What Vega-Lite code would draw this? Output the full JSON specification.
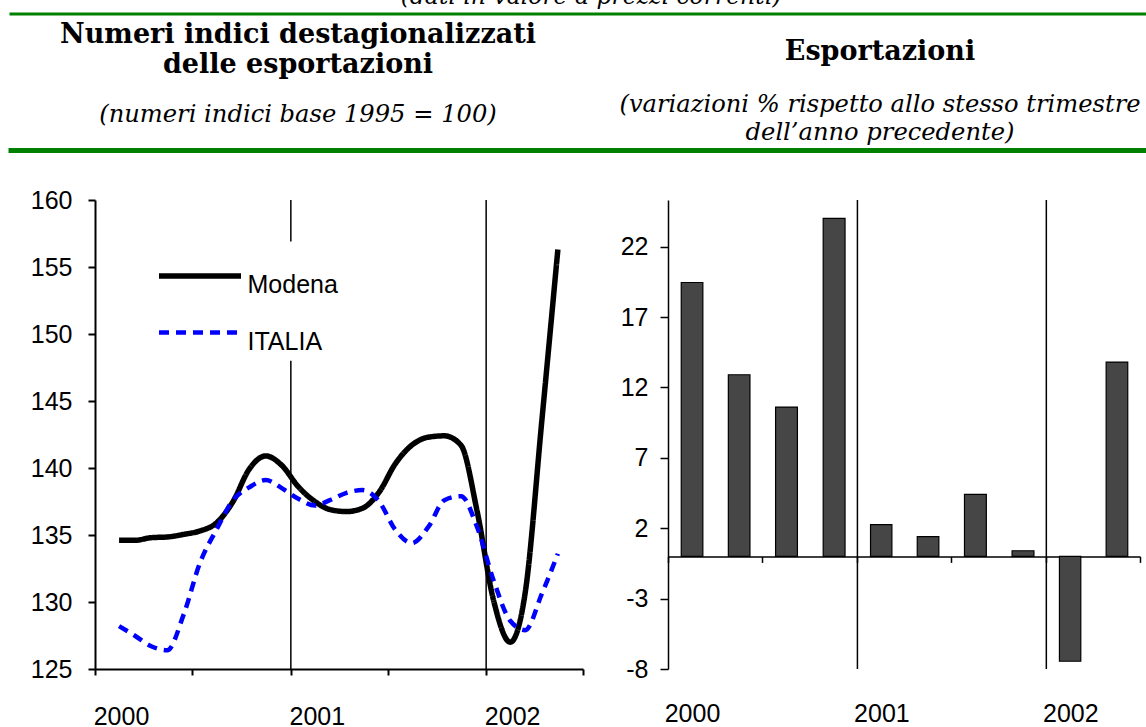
{
  "$schema": "https://vega.github.io/schema/vega-lite/v6.json",
  "background": "white",
  "padding": {"left": 8, "top": -17, "right": 0, "bottom": 0},
  "config": {
    "view": {"stroke": null},
    "font": "Liberation Sans",
    "axis": {"grid": false, "title": null, "labelFont": "Liberation Sans", "labelFontSize": 25, "labelColor": "black", "domainColor": "black", "tickColor": "black", "labelOverlap": false, "labelFlush": false, "labelBound": false},
    "legend": {"labelFont": "Liberation Sans", "labelColor": "black"}
  },
  "spacing": 34,
  "resolve": {"scale": {"color": "independent", "strokeDash": "independent", "strokeWidth": "independent"}},
  "vconcat": [
    {
      "spacing": 2.5,
      "vconcat": [
        {
          "width": 1138, "height": 0.01,
          "data": {"values": []},
          "mark": "point",
          "view": {"stroke": "#008000", "strokeWidth": 3},
          "title": {"text": "(dati in valore a prezzi correnti)", "font": "DejaVu Serif", "fontStyle": "italic", "fontWeight": "normal", "fontSize": 23.5, "color": "black", "anchor": "middle", "dx": 11, "offset": 6}
        },
        {
          "spacing": -5,
          "hconcat": [
            {
              "width": 574, "height": 0.01,
              "data": {"values": []},
              "mark": "point",
              "view": {"stroke": "#008000", "strokeWidth": 5},
              "title": {"text": ["Numeri indici destagionalizzati", "delle esportazioni"], "subtitle": "(numeri indici base 1995 = 100)", "anchor": "middle", "font": "DejaVu Serif", "fontSize": 27, "fontWeight": "bold", "color": "black", "lineHeight": 30, "subtitleFont": "DejaVu Serif", "subtitleFontStyle": "italic", "subtitleFontSize": 24.2, "subtitleColor": "black", "subtitlePadding": 23.75, "offset": 22.25}
            },
            {
              "width": 564, "height": 0.01,
              "data": {"values": []},
              "mark": "point",
              "view": {"stroke": "#008000", "strokeWidth": 5},
              "title": {"text": "Esportazioni", "subtitle": ["(variazioni % rispetto allo stesso trimestre", "dell’anno precedente)"], "anchor": "middle", "dx": 10, "font": "DejaVu Serif", "fontSize": 27, "fontWeight": "bold", "color": "black", "subtitleFont": "DejaVu Serif", "subtitleFontStyle": "italic", "subtitleFontSize": 24.2, "subtitleColor": "black", "subtitleLineHeight": 28, "subtitlePadding": 26.75, "offset": 4.25}
            }
          ]
        }
      ]
    },
    {
      "spacing": 0,
      "resolve": {"scale": {"color": "independent", "strokeDash": "independent", "strokeWidth": "independent"}},
      "hconcat": [
        {
          "width": 0.01, "height": 0.01,
          "data": {"values": []},
          "mark": "point"
        },
        {
          "width": 488, "height": 469,
          "layer": [
            {
              "data": {"values": [
                {"data": "2001-01-01", "da": 125, "a": 148},
                {"data": "2001-01-01", "da": 156.9, "a": 160},
                {"data": "2002-01-01", "da": 125, "a": 160}
              ]},
              "mark": {"type": "rule", "color": "black", "strokeWidth": 1.5},
              "encoding": {
                "x": {"field": "data", "type": "temporal",
                  "scale": {"type": "utc", "domain": [{"year": 2000, "month": 1, "date": 1, "utc": true}, {"year": 2002, "month": 7, "date": 1, "utc": true}]},
                  "axis": {"values": [{"year": 2000, "month": 1, "date": 1, "utc": true}, {"year": 2000, "month": 7, "date": 1, "utc": true}, {"year": 2001, "month": 1, "date": 1, "utc": true}, {"year": 2001, "month": 7, "date": 1, "utc": true}, {"year": 2002, "month": 1, "date": 1, "utc": true}, {"year": 2002, "month": 7, "date": 1, "utc": true}],
                    "labelExpr": "utcmonth(datum.value) == 0 ? utcFormat(datum.value, '%Y') : ''",
                    "tickSize": 6, "tickWidth": 2, "domainWidth": 2, "labelAlign": "center", "labelBaseline": "middle", "labelOffset": 26, "labelPadding": 41}},
                "y": {"field": "da", "type": "quantitative", "scale": {"domain": [125, 160], "nice": false, "zero": false},
                  "axis": {"values": [125, 130, 135, 140, 145, 150, 155, 160], "tickSize": 7, "tickWidth": 2, "domainWidth": 2, "labelPadding": 16, "minExtent": 82.5}},
                "y2": {"field": "a"}
              }
            },
            {
              "data": {"values": [
                {"data": "2000-02-15", "serie": "Modena", "valore": 134.6},
                {"data": "2000-03-15", "serie": "Modena", "valore": 134.6},
                {"data": "2000-04-15", "serie": "Modena", "valore": 134.8},
                {"data": "2000-05-15", "serie": "Modena", "valore": 134.85},
                {"data": "2000-06-15", "serie": "Modena", "valore": 135.05},
                {"data": "2000-07-15", "serie": "Modena", "valore": 135.3},
                {"data": "2000-08-15", "serie": "Modena", "valore": 135.9},
                {"data": "2000-09-15", "serie": "Modena", "valore": 137.5},
                {"data": "2000-10-15", "serie": "Modena", "valore": 139.9},
                {"data": "2000-11-15", "serie": "Modena", "valore": 140.9},
                {"data": "2000-12-15", "serie": "Modena", "valore": 140.2},
                {"data": "2001-01-15", "serie": "Modena", "valore": 138.6},
                {"data": "2001-02-15", "serie": "Modena", "valore": 137.5},
                {"data": "2001-03-15", "serie": "Modena", "valore": 136.9},
                {"data": "2001-04-15", "serie": "Modena", "valore": 136.75},
                {"data": "2001-05-15", "serie": "Modena", "valore": 137.0},
                {"data": "2001-06-15", "serie": "Modena", "valore": 138.2},
                {"data": "2001-07-15", "serie": "Modena", "valore": 140.3},
                {"data": "2001-08-15", "serie": "Modena", "valore": 141.7},
                {"data": "2001-09-15", "serie": "Modena", "valore": 142.3},
                {"data": "2001-10-15", "serie": "Modena", "valore": 142.4},
                {"data": "2001-11-15", "serie": "Modena", "valore": 141.7},
                {"data": "2001-12-15", "serie": "Modena", "valore": 136.8},
                {"data": "2002-01-15", "serie": "Modena", "valore": 130.1},
                {"data": "2002-02-15", "serie": "Modena", "valore": 127.0},
                {"data": "2002-03-15", "serie": "Modena", "valore": 130.7},
                {"data": "2002-04-15", "serie": "Modena", "valore": 143.5},
                {"data": "2002-05-15", "serie": "Modena", "valore": 156.3},
                {"data": "2000-02-15", "serie": "ITALIA", "valore": 128.2},
                {"data": "2000-03-15", "serie": "ITALIA", "valore": 127.5},
                {"data": "2000-04-15", "serie": "ITALIA", "valore": 126.7},
                {"data": "2000-05-15", "serie": "ITALIA", "valore": 126.4},
                {"data": "2000-06-15", "serie": "ITALIA", "valore": 129.1},
                {"data": "2000-07-15", "serie": "ITALIA", "valore": 132.9},
                {"data": "2000-08-15", "serie": "ITALIA", "valore": 135.4},
                {"data": "2000-09-15", "serie": "ITALIA", "valore": 137.6},
                {"data": "2000-10-15", "serie": "ITALIA", "valore": 138.55},
                {"data": "2000-11-15", "serie": "ITALIA", "valore": 139.1},
                {"data": "2000-12-15", "serie": "ITALIA", "valore": 138.5},
                {"data": "2001-01-15", "serie": "ITALIA", "valore": 137.7},
                {"data": "2001-02-15", "serie": "ITALIA", "valore": 137.2},
                {"data": "2001-03-15", "serie": "ITALIA", "valore": 137.6},
                {"data": "2001-04-15", "serie": "ITALIA", "valore": 138.15},
                {"data": "2001-05-15", "serie": "ITALIA", "valore": 138.35},
                {"data": "2001-06-15", "serie": "ITALIA", "valore": 137.5},
                {"data": "2001-07-15", "serie": "ITALIA", "valore": 135.4},
                {"data": "2001-08-15", "serie": "ITALIA", "valore": 134.4},
                {"data": "2001-09-15", "serie": "ITALIA", "valore": 135.6},
                {"data": "2001-10-15", "serie": "ITALIA", "valore": 137.6},
                {"data": "2001-11-15", "serie": "ITALIA", "valore": 137.9},
                {"data": "2001-12-15", "serie": "ITALIA", "valore": 135.6},
                {"data": "2002-01-15", "serie": "ITALIA", "valore": 131.6},
                {"data": "2002-02-15", "serie": "ITALIA", "valore": 128.6},
                {"data": "2002-03-15", "serie": "ITALIA", "valore": 127.9},
                {"data": "2002-04-15", "serie": "ITALIA", "valore": 130.6},
                {"data": "2002-05-15", "serie": "ITALIA", "valore": 133.6}
              ]},
              "mark": {"type": "line", "interpolate": "monotone"},
              "encoding": {
                "x": {"field": "data", "type": "temporal",
                  "scale": {"type": "utc", "domain": [{"year": 2000, "month": 1, "date": 1, "utc": true}, {"year": 2002, "month": 7, "date": 1, "utc": true}]}},
                "y": {"field": "valore", "type": "quantitative", "scale": {"domain": [125, 160], "nice": false, "zero": false}},
                "color": {"field": "serie", "type": "nominal", "scale": {"domain": ["Modena", "ITALIA"], "range": ["#000000", "#0000ff"]},
                  "legend": {"orient": "none", "legendX": 92, "legendY": 72, "title": null, "symbolType": "M-4,-0.88H4", "symbolSize": 420.25, "labelFontSize": 25, "labelOffset": 34.5, "rowPadding": 25, "labelBaseline": "middle"}},
                "strokeDash": {"field": "serie", "type": "nominal", "scale": {"domain": ["Modena", "ITALIA"], "range": [[1, 0], [10, 7]]}},
                "strokeWidth": {"field": "serie", "type": "nominal", "scale": {"domain": ["Modena", "ITALIA"], "range": [5.5, 4.5]}}
              }
            }
          ]
        },
        {
          "width": 472, "height": 469,
          "layer": [
            {
              "data": {"values": [{"data": "2001-01-01"}, {"data": "2002-01-01"}]},
              "mark": {"type": "rule", "color": "black", "strokeWidth": 1.5},
              "encoding": {
                "x": {"field": "data", "type": "temporal",
                  "scale": {"type": "utc", "domain": [{"year": 2000, "month": 1, "date": 1, "utc": true}, {"year": 2002, "month": 7, "date": 1, "utc": true}]}}
              }
            },
            {
              "data": {"values": [
                {"trimestre": "2000-01-01", "variazione": 19.45},
                {"trimestre": "2000-04-01", "variazione": 12.9},
                {"trimestre": "2000-07-01", "variazione": 10.6},
                {"trimestre": "2000-10-01", "variazione": 24.0},
                {"trimestre": "2001-01-01", "variazione": 2.25},
                {"trimestre": "2001-04-01", "variazione": 1.4},
                {"trimestre": "2001-07-01", "variazione": 4.4},
                {"trimestre": "2001-10-01", "variazione": 0.4},
                {"trimestre": "2002-01-01", "variazione": -7.45},
                {"trimestre": "2002-04-01", "variazione": 13.8}
              ]},
              "mark": {"type": "bar", "width": {"band": 0.48}, "color": "#464646", "stroke": "black", "strokeWidth": 1.2},
              "encoding": {
                "x": {"field": "trimestre", "type": "temporal", "timeUnit": "utcyearquarter",
                  "scale": {"type": "utc", "domain": [{"year": 2000, "month": 1, "date": 1, "utc": true}, {"year": 2002, "month": 7, "date": 1, "utc": true}]},
                  "axis": {"values": [{"year": 2000, "month": 1, "date": 1, "utc": true}, {"year": 2000, "month": 7, "date": 1, "utc": true}, {"year": 2001, "month": 1, "date": 1, "utc": true}, {"year": 2001, "month": 7, "date": 1, "utc": true}, {"year": 2002, "month": 1, "date": 1, "utc": true}, {"year": 2002, "month": 7, "date": 1, "utc": true}],
                    "labelExpr": "utcmonth(datum.value) == 0 ? utcFormat(datum.value, '%Y') : ''",
                    "offset": -112.6, "tickSize": 6, "tickWidth": 1.5, "domainWidth": 1.5, "labelAlign": "center", "labelBaseline": "middle", "labelOffset": 24, "labelPadding": 151}},
                "y": {"field": "variazione", "type": "quantitative", "scale": {"domain": [-8, 25.31], "nice": false, "zero": false},
                  "axis": {"values": [-8, -3, 2, 7, 12, 17, 22], "labelExpr": "replace(datum.label, '\u2212', '-')", "tickSize": 8, "tickWidth": 1.5, "domainWidth": 1.5, "labelPadding": 12, "minExtent": 59}}
              }
            }
          ]
        }
      ]
    }
  ]
}
